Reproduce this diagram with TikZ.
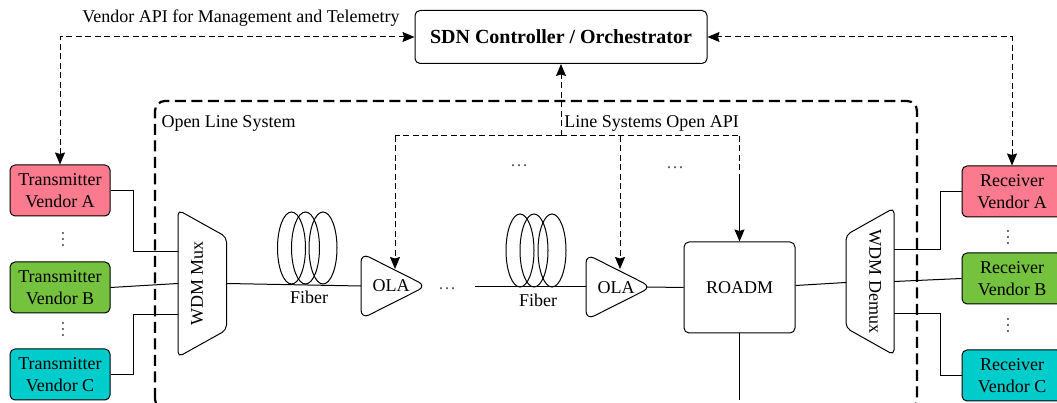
\documentclass[tikz,border=0pt]{standalone}
\usepackage{fontspec}
\setmainfont{Liberation Serif}
\usepackage{tikz}
\usetikzlibrary{arrows.meta}
\usepackage{xcolor}
\definecolor{vendorpink}{RGB}{251,122,142}
\definecolor{vendorgreen}{RGB}{116,194,62}
\definecolor{vendorteal}{RGB}{0,204,204}
\tikzset{vendornode/.style={rectangle, draw=black, line width=1pt, rounded corners=5pt, minimum width=100pt, minimum height=51pt, inner sep=0pt, align=center},
    apiline/.style={line width=1pt, dash pattern=on 6pt off 3.5pt},
    linkline/.style={line width=1pt},
    tiptop/.style={-{Stealth[length=12pt, width=10pt, inset=1.5pt]}},
    tipboth/.style={{Stealth[length=12pt, width=10pt, inset=1.5pt]}-{Stealth[length=12pt, width=10pt, inset=1.5pt]}}}

\begin{document}
\begin{tikzpicture}[
        line join=miter,
        font=\fontsize{18}{21.5}\selectfont,
        wdmline/.style={line width=1pt, rounded corners=5pt},
        olaline/.style={line width=1pt, rounded corners=9pt},
        coilline/.style={line width=1pt},
        dotslabel/.style={text=black!65}
    ]
        \path[use as bounding box, clip] (0pt, 0pt) rectangle (1057pt, 403pt);
        % Open line system border
        \draw[line width=2.2pt, rounded corners=10pt, dash pattern=on 11pt off 5.5pt] (155pt, -6pt) rectangle (917pt, 302pt);
        % Controller
        \node[draw=black, line width=1pt, rounded corners=5pt, minimum width=292pt, minimum height=53pt, font=\fontsize{20}{24}\selectfont\bfseries] (ctrl) at (561pt, 366pt) {SDN Controller / Orchestrator};
        \node (vendorapi) at (241pt, 384.5pt) {Vendor API for Management and Telemetry};
        \node (olslabel) at (228.5pt, 279.5pt) {Open Line System};
        \node (openapi) at (651.5pt, 279.5pt) {Line Systems Open API};
        % Transmitters and receivers
        \foreach \vname/\vy/\vcolor/\vtext in {
            txa/212.5pt/vendorpink/Transmitter\\Vendor A,
            txb/115.5pt/vendorgreen/Transmitter\\Vendor B,
            txc/28.5pt/vendorteal/Transmitter\\Vendor C} {
            \node[vendornode, fill=\vcolor] (\vname) at (60pt, \vy) {\vtext};
        }
        \foreach \vname/\vy/\vcolor/\vtext in {
            rxa/211.5pt/vendorpink/Receiver\\Vendor A,
            rxb/124.5pt/vendorgreen/Receiver\\Vendor B,
            rxc/27.5pt/vendorteal/Receiver\\Vendor C} {
            \node[vendornode, fill=\vcolor] (\vname) at (1012pt, \vy) {\vtext};
        }
        % Line elements
        \draw[wdmline] (178pt, 193pt) -- (226.5pt, 166pt) -- (226.5pt, 73pt) -- (178pt, 46pt) -- cycle;
        \node[rotate=90] (mux) at (197pt, 119.5pt) {WDM Mux};
        \draw[wdmline] (894pt, 195pt) -- (846pt, 168pt) -- (846pt, 75pt) -- (894pt, 48pt) -- cycle;
        \node[rotate=-90] (demux) at (875pt, 121.5pt) {WDM Demux};
        \foreach \oname/\x/\y/\ox/\oy in {
            ola1/361pt/117pt/391pt/117pt,
            ola2/586pt/116pt/616pt/115pt} {
            \draw[olaline] (\x, \y) ++(0pt, 33pt) -- ++(65.5pt, -33pt) -- ++(-65.5pt, -33pt) -- cycle;
            \node (\oname) at (\ox, \oy) {OLA};
            \coordinate (\oname in) at (\x, \y);
        }
        \coordinate (ola2out) at (647pt, 116pt);
        \node[draw=black, line width=1pt, rounded corners=5pt, minimum width=111pt, minimum height=91pt] (roadm) at (739.5pt, 115.5pt) {ROADM};
        % Fiber coils
        \foreach \x in {291.5pt, 305.5pt, 323pt} {
            \draw[coilline] (\x, 155pt) ellipse (14pt and 36pt);
        }
        \foreach \x in {520pt, 534pt, 552pt} {
            \draw[coilline] (\x, 152.5pt) ellipse (14pt and 36.5pt);
        }
        \node (fiber1) at (309pt, 106pt) {Fiber};
        \node (fiber2) at (538pt, 103pt) {Fiber};
        % Dots
        \foreach \dname/\x/\y in {
            dotsa/519pt/237pt,
            dotsb/675pt/235pt,
            dotsc/447pt/114pt} {
            \node[dotslabel] (\dname) at (\x, \y) {\dots};
        }
        \foreach \dname/\x/\y in {
            vdotsa/63pt/163pt,
            vdotsb/63pt/73.5pt,
            vdotsc/1008pt/165.5pt,
            vdotsd/1008pt/77.5pt} {
            \node[dotslabel, rotate=90, inner sep=0pt] (\dname) at (\x, \y) {\dots};
        }
        % Named free ends
        \coordinate (muxa) at (178pt, 151pt);
        \coordinate (muxb) at (178pt, 119.5pt);
        \coordinate (muxc) at (178pt, 88pt);
        \coordinate (muxout) at (226.5pt, 119.5pt);
        \coordinate (demuxin) at (846pt, 120.5pt);
        \coordinate (demuxa) at (894pt, 153pt);
        \coordinate (demuxb) at (894pt, 121.5pt);
        \coordinate (demuxc) at (894pt, 89.5pt);
        \coordinate (fiberstart) at (475pt, 116pt);
        \coordinate (roadmend) at (739.5pt, 3pt);
        \coordinate (apijoin) at (561pt, 267pt);
        \coordinate (apileft) at (395pt, 267pt);
        \coordinate (apimid) at (620pt, 267pt);
        \coordinate (apiright) at (739.5pt, 267pt);
        \coordinate (apisolid) at (739.5pt, 228pt);
        \coordinate (ola1top) at (395pt, 134pt);
        \coordinate (ola2top) at (620pt, 134pt);
        % Links
        \draw[linkline] (txa.east) -- ++(22.5pt, 0pt) |- (muxa);
        \draw[linkline] (txb.east) -- (muxb);
        \draw[linkline] (txc.east) -- ++(22.5pt, 0pt) |- (muxc);
        \draw[linkline] (muxout) -- (ola1in);
        \draw[linkline] (fiberstart) -- (ola2in);
        \draw[linkline] (ola2out) -- (roadm.west);
        \draw[linkline] ([yshift=2pt]roadm.east) -- (demuxin);
        \draw[linkline] (roadm.south) -- (roadmend);
        \draw[linkline] (demuxa) -- ++(46pt, 0pt) |- (rxa.west);
        \draw[linkline] (demuxb) -- (rxb.west);
        \draw[linkline] (demuxc) -- ++(46pt, 0pt) |- (rxc.west);
        % API links
        \draw[apiline, tipboth] (txa.north) |- (ctrl.west);
        \draw[apiline, tipboth] (rxa.north) |- (ctrl.east);
        \draw[apiline, tiptop] (apijoin) -- (ctrl.south);
        \draw[apiline] (apijoin) -- (apiright);
        \draw[apiline, tiptop] (apileft) -- (ola1top);
        \draw[apiline] (apijoin) -- (apileft);
        \draw[apiline, tiptop] (apimid) -- (ola2top);
        \draw[apiline] (apiright) -- (apisolid);
        \draw[linkline, tiptop] (apisolid) -- (roadm.north);
    \end{tikzpicture}
\end{document}
